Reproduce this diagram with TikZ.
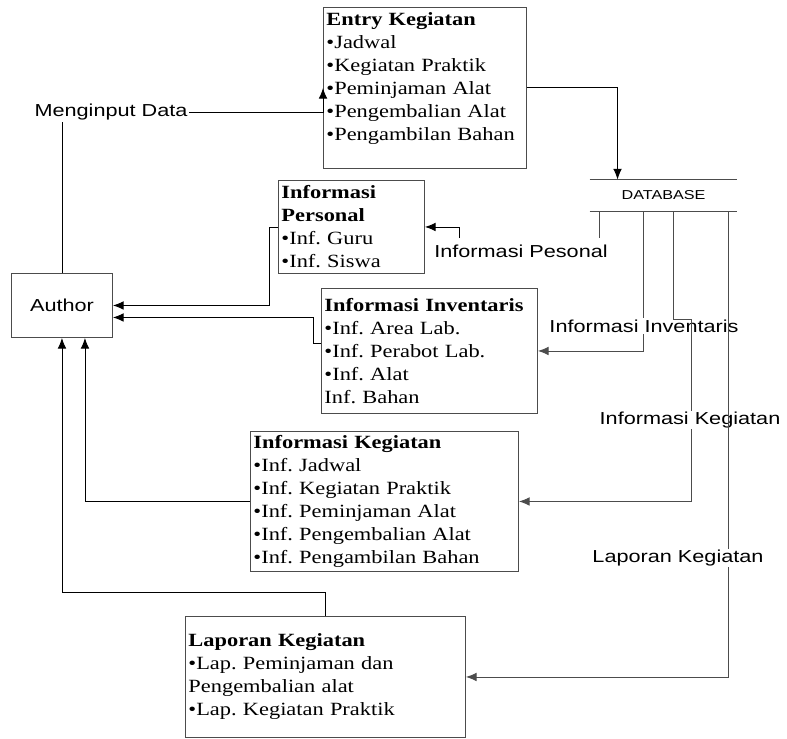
\documentclass[tikz,border=0pt]{standalone}
\usepackage{fontspec}
\setmainfont{Liberation Serif}
\newfontfamily\boxfont[FakeStretch=1.2]{Liberation Serif}
\newfontfamily\lblfont[FakeStretch=1.25]{Liberation Sans}
\usetikzlibrary{calc, arrows.meta}
\frenchspacing

\begin{document}
\begin{tikzpicture}[x=0.75pt, y=-0.75pt, >={Latex[length=8pt,width=6.5pt]}, line width=0.7pt,
  box/.style={draw=black!70, anchor=north west, align=left, inner xsep=2.25pt, inner ysep=0pt,
    font=\boxfont\fontsize{14}{17.25}\selectfont},
  lbl/.style={font=\lblfont\fontsize{13}{15}\selectfont, inner sep=1pt}]
  \useasboundingbox (0,0) rectangle (787,738);

  % boxes
  \node[box, text width=147.75pt, minimum height=120.75pt] (entry) at (323,7)
    {\textbf{Entry Kegiatan}\\\textbullet Jadwal\\\textbullet Kegiatan Praktik\\\textbullet Peminjaman Alat\\\textbullet Pengembalian Alat\\\textbullet Pengambilan Bahan\\~};
  \node[box, text width=105pt, minimum height=69.75pt] (personal) at (278,180)
    {\textbf{Informasi}\\\textbf{Personal}\\\textbullet Inf. Guru\\\textbullet Inf. Siswa};
  \node[box, text width=157.5pt, minimum height=93.75pt] (invent) at (321,288)
    {\textbf{Informasi Inventaris}\\\textbullet Inf. Area Lab.\\\textbullet Inf. Perabot Lab.\\\textbullet Inf. Alat\\Inf. Bahan};
  \node[box, text width=196.5pt, minimum height=105pt] (kegiat) at (250,431)
    {\textbf{Informasi Kegiatan}\\\textbullet Inf. Jadwal\\\textbullet Inf. Kegiatan Praktik\\\textbullet Inf. Peminjaman Alat\\\textbullet Inf. Pengembalian Alat\\\textbullet Inf. Pengambilan Bahan};
  \node[box, text width=205.5pt, minimum height=90.75pt] (laporan) at (185,616)
    {\textbf{Laporan Kegiatan}\\\textbullet Lap. Peminjaman dan\\Pengembalian alat\\\textbullet Lap. Kegiatan Praktik};
  \node[lbl, draw=black!70, anchor=north west, minimum width=75.75pt, minimum height=48pt] (author) at (11,273) {Author};

  % database
  \node[lbl, font=\lblfont\fontsize{9.7}{11}\selectfont, minimum width=110.25pt, minimum height=23.25pt, inner sep=0pt] (db) at (663.5,195.5) {DATABASE};
  \draw[black!70] (db.north west) -- (db.north east) (db.south west) -- (db.south east);
  \coordinate (d1) at (599,211);
  \coordinate (d2) at (643,211);
  \coordinate (d3) at (673,211);
  \coordinate (d4) at (728,211);

  \node[lbl] (input) at (111,112) {Menginput Data};
  \node[lbl] (lblP) at (521,251) {Informasi Pesonal};

  % author side
  \draw (author.north) -- (author.north |- input.south);
  \draw[->] (input.east) -- (input.east -| entry.west) -- ++(0,-24);
  \draw[->] (entry.east) -| ($(db.north west)+(28,0)$);
  \draw[->] (personal.west) -- ++(-9,0) |- (author.east);
  \draw[->] ($(invent.west)+(0,-8)$) -- ++(-8,0) |- ($(author.east)+(0,12)$);
  \draw[->] (kegiat.west) -| ($(author.south)+(23,0)$);
  \draw[->] (laporan.north) -- ++(0,-24) -| (author.south);

  % database side
  \coordinate (pb) at (459,238);
  \draw[black!70] (d1) -- (d1 |- pb);
  \draw[->] (pb) |- (personal.east);
  \draw[black!70, ->] (d2) |- (invent.east);
  \node[lbl, fill=white] (lblI) at (644,326) {Informasi Inventaris};
  \coordinate (k1) at (691,319);
  \draw[black!70, ->] (d3) |- (k1) |- (kegiat.east);
  \node[lbl, fill=white] (lblK) at (690,420) {Informasi Kegiatan};
  \draw[black!70, ->] (d4) |- (laporan.east);
  \node[lbl, fill=white] (lblL) at (678,558) {Laporan Kegiatan};
\end{tikzpicture}
\end{document}
